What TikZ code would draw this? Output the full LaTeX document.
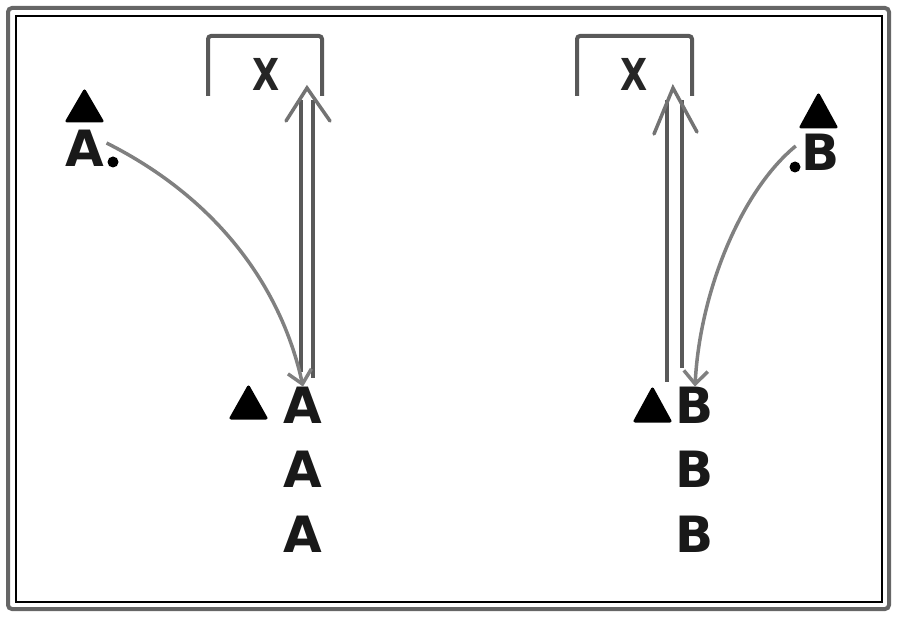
\documentclass[tikz,border=0pt]{standalone}
\usepackage{fontspec}
\setmainfont{DejaVu Sans}
\usetikzlibrary{arrows.meta}
\tikzset{
  letter/.style={font=\fontsize{50}{50}\selectfont\bfseries, inner sep=0pt, text=black!90},
  xletter/.style={font=\fontsize{44}{44}\selectfont\bfseries, inner sep=0pt, text=black!85, xscale=0.8},
  bracket/.style={draw=black!65, line width=4pt, rounded corners=3pt},
  rail/.style={draw=black!65, line width=3.5pt},
  wing/.style={draw=black!55, line width=3.5pt, line cap=round},
  curve/.style={draw=black!50, line width=3.5pt, -{Straight Barb[length=13pt,width=24pt,line width=3.5pt]}},
  tri/.style={fill=black, draw=black, line width=3pt, line join=round},
  dotmark/.style={circle, fill=black, inner sep=0pt, minimum size=11pt},
}
\begin{document}
\begin{tikzpicture}[x=1pt,y=-1pt]
\useasboundingbox (0,0) rectangle (900,620);
% frame
\draw[draw=black!60, line width=4pt, rounded corners=4pt] (8,8) rectangle (889,609);
\draw[line width=1.5pt] (16,16) rectangle (882,602);

% brackets
\draw[bracket] (208,96) -- (208,36) -- (322,36) -- (322,96);
\draw[bracket] (577,96) -- (577,36) -- (692,36) -- (692,96);
\node[xletter] (xl) at (266,74) {X};
\node[xletter] (xr) at (634,74) {X};

% left side
\fill[tri] (67,121) -- (102,121) -- (84.5,91) -- cycle;
\node[letter] (atop) at (85,148) {A};
\node[dotmark] (adot) at (113,162) {};
\fill[tri] (231,418) -- (266,418) -- (248.5,387) -- cycle;
\node[letter] (a1) at (303,405) {A};
\node[letter] (a2) at (303,469) {A};
\node[letter] (a3) at (303,534) {A};

% right side
\fill[tri] (801,127) -- (836,127) -- (818.5,95) -- cycle;
\node[letter] (btop) at (821,152) {B};
\node[letter] (b1) at (695,405) {B};
\node[letter] (b2) at (695,469) {B};
\node[letter] (b3) at (695,534) {B};
\node[dotmark] (bdot) at (795,167) {};
\fill[tri] (635,421) -- (670,421) -- (652.5,389) -- cycle;

% left double arrow
\coordinate (ltip) at (307,88);
\draw[rail] (301,372) -- (301,100);
\draw[rail] (313,378) -- (313,100);
\draw[wing] (286,121) -- (ltip) -- (330,121);
% right double arrow
\coordinate (rtip) at (673,88);
\draw[rail] (667,382) -- (667,100);
\draw[rail] (682,368) -- (682,100);
\draw[wing] (654,134) -- (rtip) -- (697,132);

% curved arrows
\draw[curve] (atop.east) ++(2,-5) .. controls (220,200) and (282,290) .. (a1.north);
\draw[curve] (btop.west) ++(-6,-6) .. controls (742,190) and (700,290) .. (b1.north);
\end{tikzpicture}
\end{document}
